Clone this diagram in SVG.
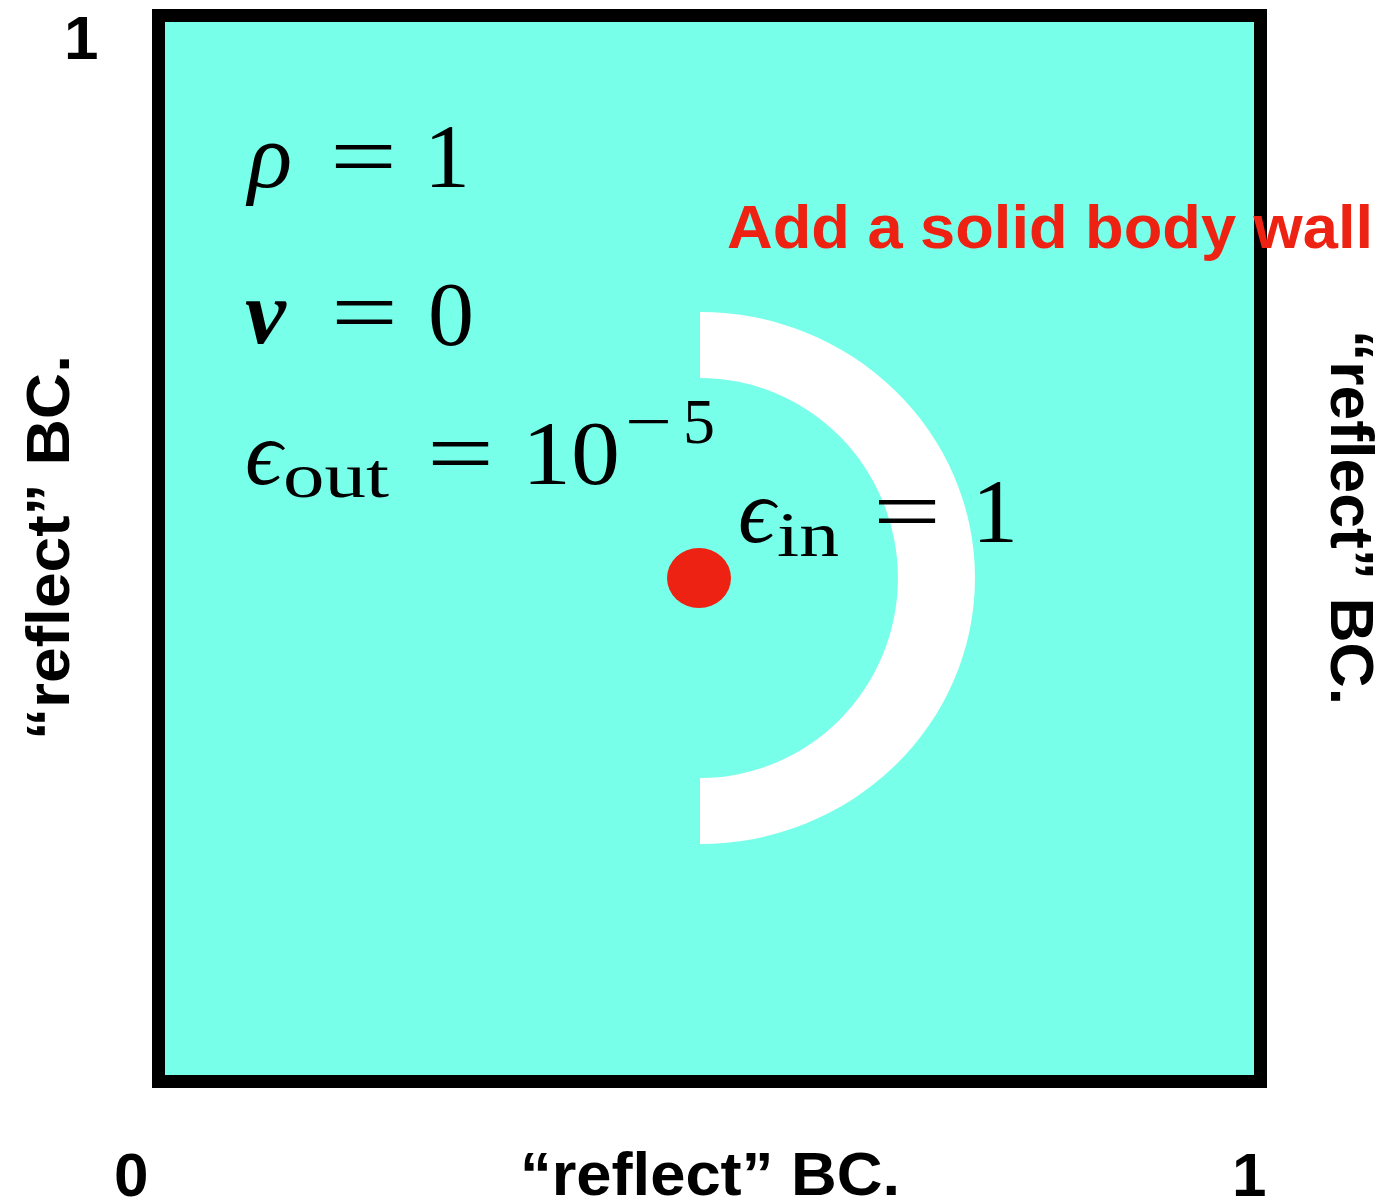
<svg xmlns="http://www.w3.org/2000/svg" width="1384" height="1201" viewBox="0 0 1384 1201">
<style>
.lbl{font-family:"Liberation Sans",Arial,Helvetica,sans-serif;font-weight:bold;font-size:62px;fill:#000}
.red{font-family:"Liberation Sans",Arial,Helvetica,sans-serif;font-weight:bold;font-size:62px;fill:#ee2212}
.m{font-family:"Liberation Serif","Times New Roman",serif;font-size:92px;fill:#000}
.mi{font-family:"Liberation Serif","Times New Roman",serif;font-style:italic;font-size:92px;fill:#000}
.ms{font-family:"Liberation Serif","Times New Roman",serif;font-size:64px;fill:#000}
</style>
<rect width="1384" height="1201" fill="#fff"/>
<g id="domain">
<rect x="158.5" y="15.5" width="1102" height="1066" fill="#78ffea" stroke="#000" stroke-width="13"/>
</g>
<g id="wall">
<path d="M700,312 A275,266 0 0 1 700,844 L700,778 A198,200 0 0 0 700,378 Z" fill="#fff"/>
</g>
<g id="source">
<ellipse cx="699" cy="578" rx="32" ry="30" fill="#ee2212"/>
</g>
<g id="equations">
<text class="mi" x="248" y="187">ρ</text>
<text class="m" x="330" y="187" textLength="67" lengthAdjust="spacingAndGlyphs">=</text>
<text class="m" x="424" y="187">1</text>
<text class="mi" x="245" y="343" font-weight="bold">v</text>
<text class="m" x="331" y="343" textLength="67" lengthAdjust="spacingAndGlyphs">=</text>
<text class="m" x="428" y="345">0</text>
<text class="mi" x="245" y="484">ϵ</text>
<text class="ms" x="283" y="497" textLength="106" lengthAdjust="spacingAndGlyphs">out</text>
<text class="m" x="427" y="484" textLength="67" lengthAdjust="spacingAndGlyphs">=</text>
<text class="m" x="522" y="484" textLength="98" lengthAdjust="spacingAndGlyphs">10</text>
<text class="ms" x="625" y="443" textLength="47" lengthAdjust="spacingAndGlyphs">−</text>
<text class="ms" x="683" y="443">5</text>
<text class="mi" x="738" y="542">ϵ</text>
<text class="ms" x="777" y="556" textLength="62" lengthAdjust="spacingAndGlyphs">in</text>
<text class="m" x="873" y="542" textLength="68" lengthAdjust="spacingAndGlyphs">=</text>
<text class="m" x="972" y="542">1</text>
</g>
<g id="title">
<text class="red" x="727" y="248" textLength="646" lengthAdjust="spacingAndGlyphs">Add a solid body wall</text>
</g>
<g id="axis-labels">
<text class="lbl" x="64" y="59">1</text>
<text class="lbl" x="114" y="1196">0</text>
<text class="lbl" x="1232" y="1196">1</text>
<text class="lbl" x="520" y="1195" textLength="380" lengthAdjust="spacingAndGlyphs">“reflect” BC.</text>
<text class="lbl" transform="translate(69,740) rotate(-90)" textLength="385" lengthAdjust="spacingAndGlyphs">“reflect” BC.</text>
<text class="lbl" transform="translate(1331,330) rotate(90)" textLength="375" lengthAdjust="spacingAndGlyphs">“reflect” BC.</text>
</g>
</svg>
